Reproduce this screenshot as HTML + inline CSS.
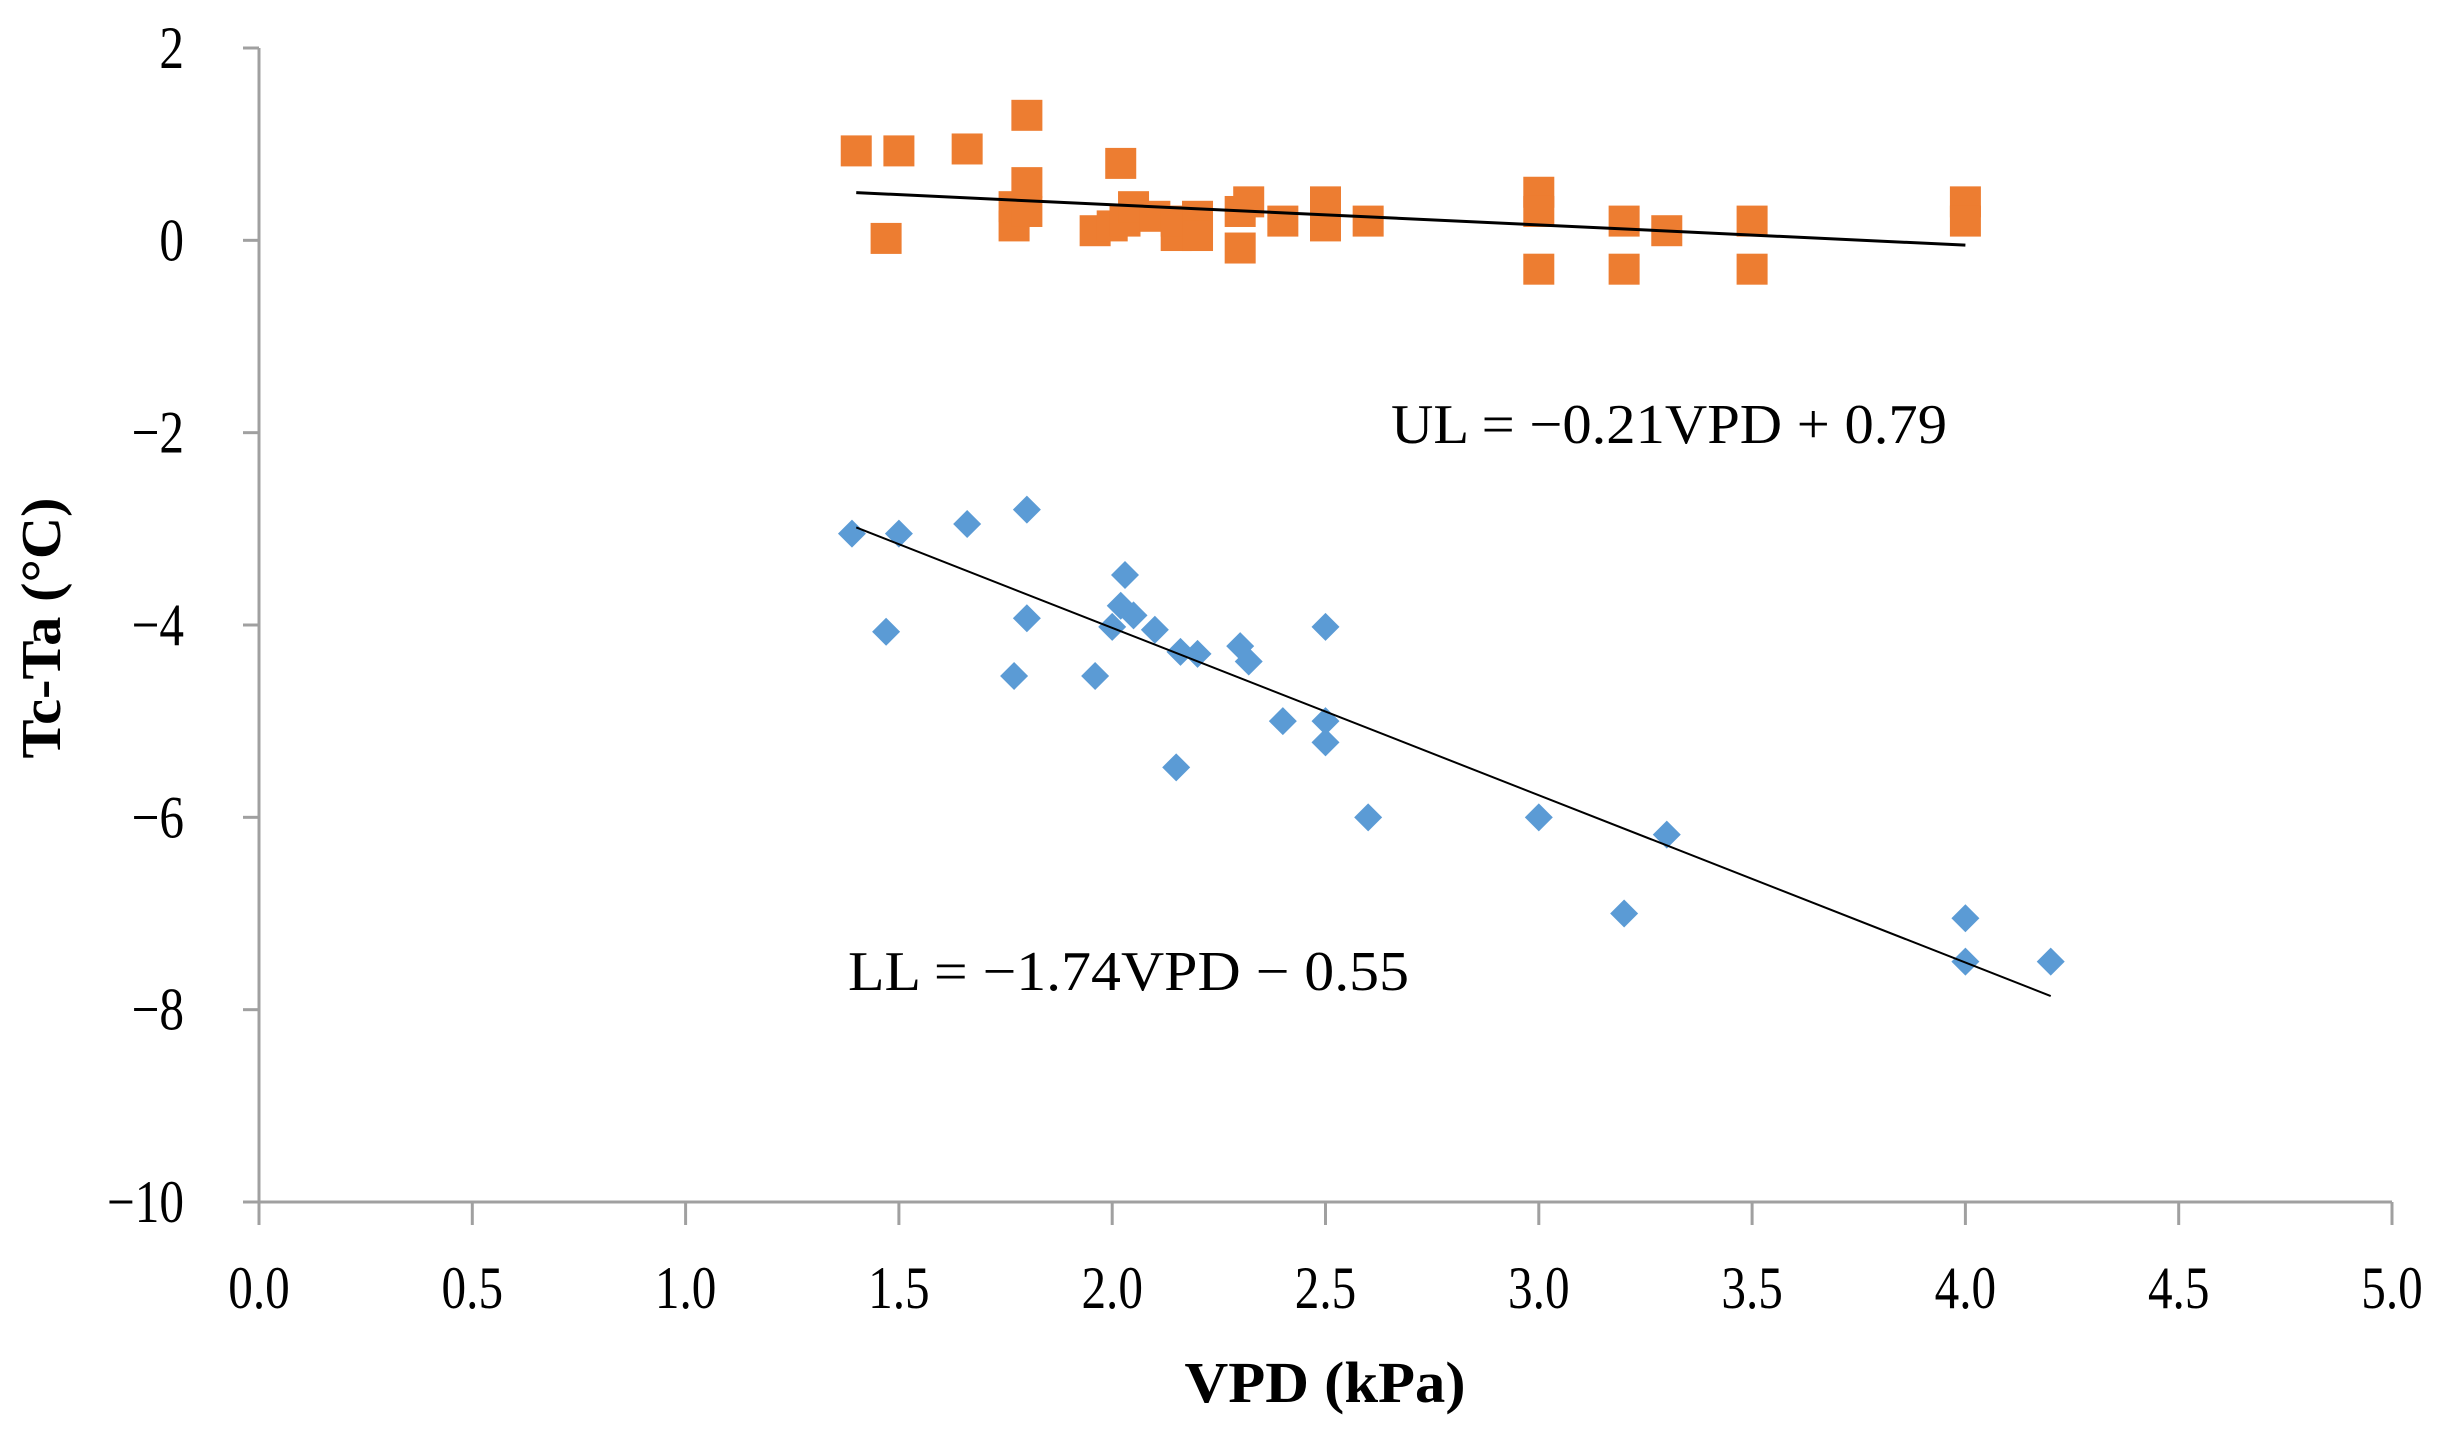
<!DOCTYPE html>
<html><head><meta charset="utf-8"><style>
html,body{margin:0;padding:0;background:#fff;}
svg{display:block;font-family:"Liberation Serif",serif;}
</style></head><body>
<svg id="chart" width="2450" height="1435" viewBox="0 0 2450 1435" xmlns="http://www.w3.org/2000/svg">
<g id="axes"></g>
<g id="marks"></g>
<text x="1391" y="443" font-size="56" textLength="556" lengthAdjust="spacingAndGlyphs">UL = −0.21VPD + 0.79</text>
<text x="848" y="990" font-size="56" textLength="561" lengthAdjust="spacingAndGlyphs">LL  = −1.74VPD − 0.55</text>
<text x="1325" y="1402" font-size="58" font-weight="bold" text-anchor="middle" textLength="281" lengthAdjust="spacingAndGlyphs">VPD (kPa)</text>
<text transform="translate(60,628) rotate(-90)" font-size="56" font-weight="bold" text-anchor="middle" textLength="261" lengthAdjust="spacingAndGlyphs">Tc-Ta (°C)</text>
</svg>
<script>
const xTicks=[0,0.5,1,1.5,2,2.5,3,3.5,4,4.5,5];
const xTickLabels=["0.0","0.5","1.0","1.5","2.0","2.5","3.0","3.5","4.0","4.5","5.0"];
const yTicks=[2,0,-2,-4,-6,-8,-10];
const yTickLabels=["2","0","\u22122","\u22124","\u22126","\u22128","\u221210"];
const ulX=[1.4,1.47,1.5,1.66,1.77,1.77,1.8,1.8,1.8,1.96,2.0,2.02,2.03,2.05,2.1,2.15,2.15,2.2,2.2,2.3,2.3,2.32,2.4,2.5,2.5,2.6,3.0,3.0,3.0,3.2,3.2,3.3,3.5,3.5,4.0,4.0];
const ulY=[0.93,0.02,0.93,0.95,0.15,0.35,1.3,0.6,0.3,0.1,0.15,0.8,0.2,0.35,0.25,0.05,0.2,0.25,0.05,-0.08,0.3,0.4,0.2,0.4,0.15,0.2,0.5,0.3,-0.3,0.2,-0.3,0.1,0.2,-0.3,0.4,0.2];
const llX=[1.39,1.47,1.5,1.66,1.77,1.8,1.8,1.96,2.0,2.02,2.03,2.05,2.1,2.15,2.16,2.2,2.3,2.32,2.4,2.5,2.5,2.5,2.6,3.0,3.2,3.3,4.0,4.0,4.2];
const llY=[-3.05,-4.07,-3.05,-2.95,-4.53,-2.8,-3.93,-4.53,-4.02,-3.8,-3.48,-3.9,-4.05,-5.48,-4.28,-4.3,-4.22,-4.38,-5.0,-4.02,-5.0,-5.22,-6.0,-6.0,-7.0,-6.18,-7.05,-7.5,-7.5];
const ulFit=[-0.21,0.79], ulRange=[1.4,4.0];
const llFit=[-1.74,-0.55], llRange=[1.4,4.2];

const X0=259,X1=2392,Y0=48,Y1=1202;
const sx=v=>X0+(v-0)/(5-0)*(X1-X0);
const sy=v=>Y1-(v-(-10))/(2-(-10))*(Y1-Y0);
const NS="http://www.w3.org/2000/svg";
function mk(tag,attrs,parent){const e=document.createElementNS(NS,tag);for(const k in attrs)e.setAttribute(k,attrs[k]);parent.appendChild(e);return e;}
function condense(t){const w=t.getComputedTextLength();t.setAttribute('textLength',(w*0.82).toFixed(1));t.setAttribute('lengthAdjust','spacingAndGlyphs');}
const axes=document.getElementById('axes'), marks=document.getElementById('marks');
const ax=mk('line',{x1:X0,y1:Y0,x2:X0,y2:Y1,stroke:'#a0a0a0','stroke-width':3},axes);


const bx=mk('line',{x1:X0-14,y1:Y1,x2:X1,y2:Y1,stroke:'#a0a0a0','stroke-width':3},axes);


xTicks.forEach((v,i)=>{
  const t=mk('line',{x1:sx(v),y1:Y1,x2:sx(v),y2:Y1+23,stroke:'#a0a0a0','stroke-width':3},axes);
  
  
  const l=mk('text',{x:sx(v),y:1308,'font-size':60,'text-anchor':'middle'},axes);
  l.textContent=xTickLabels[i];
  
  
  condense(l);
});
yTicks.forEach((v,i)=>{
  const t=mk('line',{x1:X0-16,y1:sy(v),x2:X0,y2:sy(v),stroke:'#a0a0a0','stroke-width':3},axes);
  
  
  const l=mk('text',{x:184,y:sy(v)+20,'font-size':60,'text-anchor':'end'},axes);
  l.textContent=yTickLabels[i];
  
  
  condense(l);
});
ulX.forEach((x,i)=>{
  const s=31;
  const r=mk('rect',{x:sx(x)-s/2,y:sy(ulY[i])-s/2,width:s,height:s,fill:'#ED7D31'},marks);
  
  
});
llX.forEach((x,i)=>{
  const cx=sx(x),cy=sy(llY[i]),h=14;
  const p=mk('polygon',{points:`${cx},${cy-h} ${cx+h},${cy} ${cx},${cy+h} ${cx-h},${cy}`,fill:'#5B9BD5'},marks);
  
  
});
const f1=mk('line',{x1:sx(ulRange[0]),y1:sy(ulFit[0]*ulRange[0]+ulFit[1]),x2:sx(ulRange[1]),y2:sy(ulFit[0]*ulRange[1]+ulFit[1]),stroke:'#000','stroke-width':3},marks);


const f2=mk('line',{x1:sx(llRange[0]),y1:sy(llFit[0]*llRange[0]+llFit[1]),x2:sx(llRange[1]),y2:sy(llFit[0]*llRange[1]+llFit[1]),stroke:'#000','stroke-width':2},marks);


</script>
</body></html>
